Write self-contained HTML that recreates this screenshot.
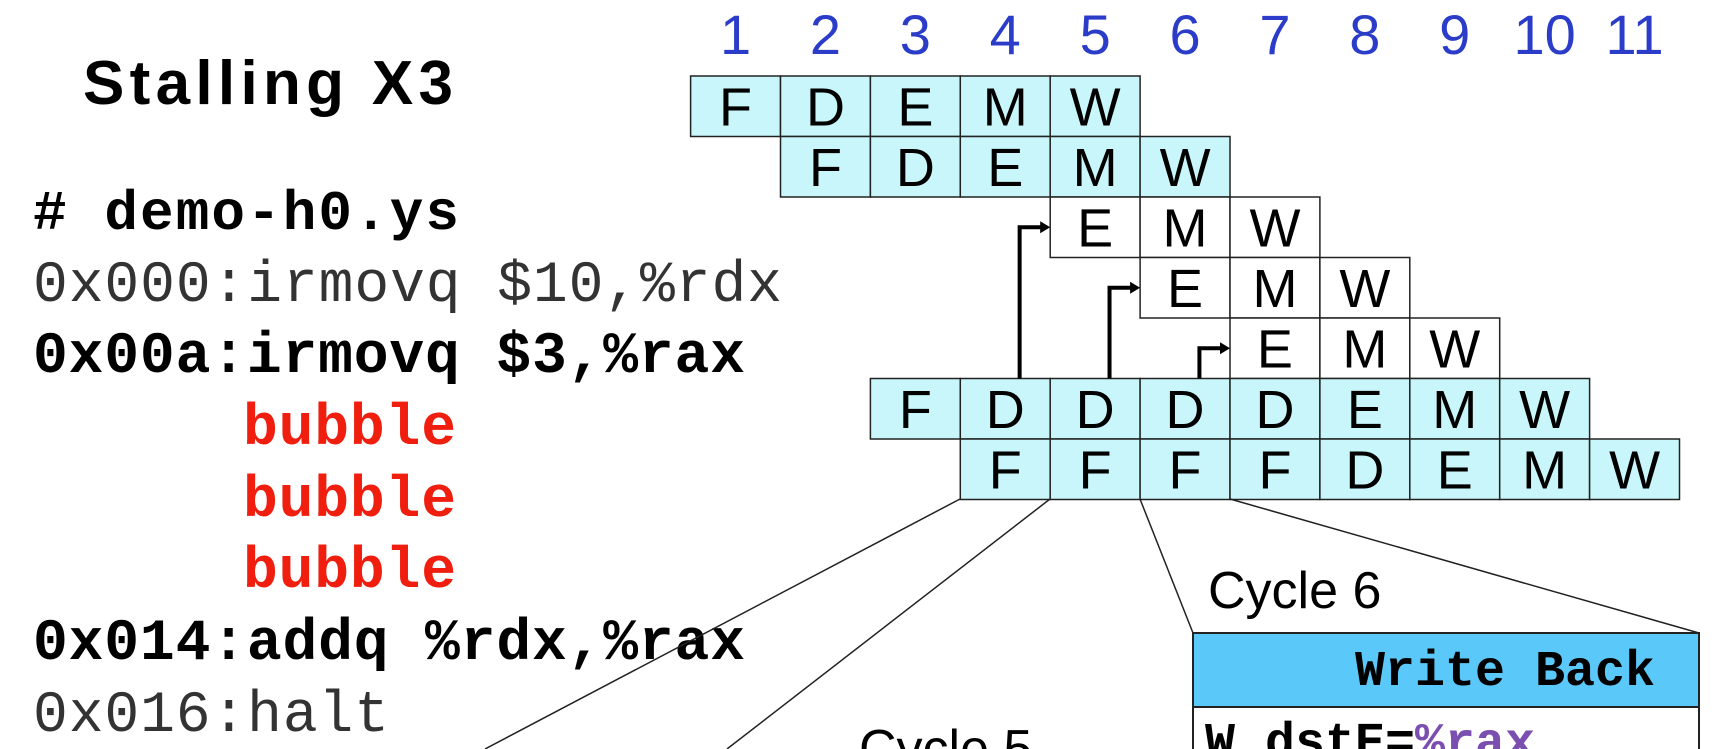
<!DOCTYPE html>
<html><head><meta charset="utf-8"><style>
html,body{margin:0;padding:0;background:#fff;overflow:hidden}
svg{display:block}
.mono{font-family:"Liberation Mono",monospace}
</style></head><body>
<svg width="1727" height="749" viewBox="0 0 1727 749" xmlns="http://www.w3.org/2000/svg">
<g id="left">
<text x="83" y="104" font-family="Liberation Sans, sans-serif" font-weight="bold" font-size="62" textLength="370">Stalling X3</text>
<text class="mono" x="33" y="229" font-size="56" font-weight="bold" textLength="426"># demo-h0.ys</text>
<text class="mono" x="33" y="301" font-size="58" fill="#333" textLength="749">0x000:irmovq $10,%rdx</text>
<text class="mono" x="33" y="372" font-size="58" font-weight="bold" textLength="712">0x00a:irmovq $3,%rax</text>
<text class="mono" x="243" y="444" font-size="58" font-weight="bold" fill="#f01e0f" textLength="213">bubble</text>
<text class="mono" x="243" y="516" font-size="58" font-weight="bold" fill="#f01e0f" textLength="213">bubble</text>
<text class="mono" x="243" y="587" font-size="58" font-weight="bold" fill="#f01e0f" textLength="213">bubble</text>
<text class="mono" x="33" y="659" font-size="58" font-weight="bold" textLength="712">0x014:addq %rdx,%rax</text>
<text class="mono" x="33" y="731" font-size="58" fill="#333" textLength="356">0x016:halt</text>
</g>
<g id="grid"></g>
<g id="zoom">
<line x1="960" y1="499" x2="485" y2="749" stroke="#222" stroke-width="1.5"/>
<line x1="1050" y1="499" x2="727" y2="749" stroke="#222" stroke-width="1.5"/>
<line x1="1140" y1="499" x2="1193" y2="633" stroke="#222" stroke-width="1.5"/>
<line x1="1230" y1="499" x2="1699" y2="633" stroke="#222" stroke-width="1.5"/>
<text x="1208" y="608" font-family="Liberation Sans, sans-serif" font-size="52">Cycle 6</text>
<text x="859" y="766" font-family="Liberation Sans, sans-serif" font-size="52">Cycle 5</text>
<rect x="1193" y="633" width="506" height="74" fill="#5bc8fa" stroke="#222" stroke-width="2"/>
<rect x="1193" y="707" width="506" height="60" fill="#fff" stroke="#222" stroke-width="2"/>
<text class="mono" x="1655" y="685" text-anchor="end" font-size="50" font-weight="bold">Write Back</text>
<text class="mono" x="1205" y="757" font-size="50" font-weight="bold">W_dstE=<tspan fill="#7a4fb0">%rax</tspan></text>
</g>
</svg>
<script>
const cycles=[1,2,3,4,5,6,7,8,9,10,11];
const rowStarts=[1,2,5,6,7,3,4];
const rowStages=[["F","D","E","M","W"],["F","D","E","M","W"],["E","M","W"],["E","M","W"],["E","M","W"],["F","D","D","D","D","E","M","W"],["F","F","F","F","D","E","M","W"]];
const rowShaded=[true,true,false,false,false,true,true];
const arrowFrom=[4,5,6];
const arrowToRow=[2,3,4];
const NS="http://www.w3.org/2000/svg";
const x0=690.6,cw=89.9,y0=76,rh=60.5;
const cx=c=>x0+(c-1)*cw, ry=r=>y0+r*rh;
const g=document.getElementById('grid');
function mk(t,a){const e=document.createElementNS(NS,t);for(const k in a)e.setAttribute(k,a[k]);g.appendChild(e);return e;}
cycles.forEach(c=>{
 const t=mk('text',{x:cx(c)+cw/2,y:54,'text-anchor':'middle','font-family':'Liberation Sans, sans-serif','font-size':56,fill:'#2b3cc8'});
 
 
 t.textContent=c;
});
rowStages.forEach((st,r)=>{
 st.forEach((s,i)=>{
  const c=rowStarts[r]+i;
  const rc=mk('rect',{x:cx(c),y:ry(r),width:cw,height:rh,fill:rowShaded[r]?'#c8f6fa':'#fff',stroke:'#222','stroke-width':1.5});
  
  
  const t=mk('text',{x:cx(c)+cw/2,y:ry(r)+rh/2+19,'text-anchor':'middle','font-family':'Liberation Sans, sans-serif','font-size':54});
  
  
  t.textContent=s;
 });
});
arrowFrom.forEach((c,i)=>{
 const x=cx(c)+cw*0.66, ty=ry(arrowToRow[i])+rh*0.5, tx=cx(c+1);
 const p=mk('path',{d:`M${x} ${ry(5)} V${ty} H${tx-8}`,fill:'none',stroke:'#000','stroke-width':4});
 
 
 const h=mk('path',{d:`M${tx} ${ty} l-10 -6 v12 z`,fill:'#000'});
 
 
});
</script>
</body></html>
